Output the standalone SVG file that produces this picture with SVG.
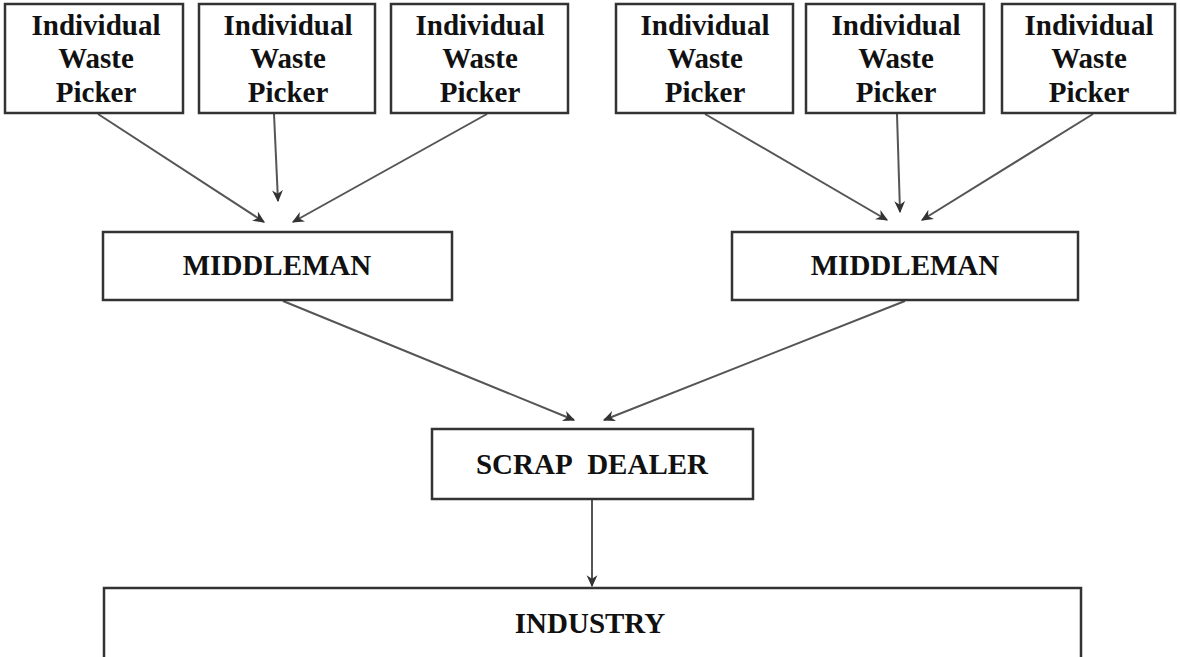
<svg xmlns="http://www.w3.org/2000/svg" width="1180" height="657" viewBox="0 0 1180 657">
<defs>
<style>
.box{fill:#fff;stroke:#333;stroke-width:2.5}
.t{font-family:"Liberation Serif","Times New Roman",serif;font-weight:bold;font-size:29px;fill:#111;text-anchor:middle}
.c{stroke:#555;stroke-width:2;fill:none;marker-end:url(#ah)}
</style>
<marker id="ah" viewBox="0 0 10 10" refX="9" refY="5" markerWidth="6" markerHeight="6" orient="auto" markerUnits="strokeWidth">
<path d="M0,0.5 L10,5 L0,9.5 L3,5 z" fill="#333"/>
</marker>
</defs>
<rect width="1180" height="657" fill="#fff"/>
<g id="connectors">
<line class="c" x1="98" y1="114" x2="264" y2="222"/>
<line class="c" x1="274" y1="114" x2="278" y2="201"/>
<line class="c" x1="487" y1="114" x2="293" y2="222"/>
<line class="c" x1="705" y1="114" x2="887" y2="220"/>
<line class="c" x1="897" y1="114" x2="900" y2="212"/>
<line class="c" x1="1093" y1="114" x2="922" y2="220"/>
<line class="c" x1="283" y1="301" x2="574" y2="420"/>
<line class="c" x1="905" y1="301" x2="604" y2="420"/>
<line class="c" x1="592" y1="500" x2="592" y2="586"/>
</g>
<g id="picker1"><rect class="box" x="5" y="4" width="178" height="109"/><text class="t" x="96" y="35">Individual</text><text class="t" x="96" y="68">Waste</text><text class="t" x="96" y="102">Picker</text></g>
<g id="picker2"><rect class="box" x="199" y="4" width="176" height="109"/><text class="t" x="288" y="35">Individual</text><text class="t" x="288" y="68">Waste</text><text class="t" x="288" y="102">Picker</text></g>
<g id="picker3"><rect class="box" x="391" y="4" width="177" height="109"/><text class="t" x="480" y="35">Individual</text><text class="t" x="480" y="68">Waste</text><text class="t" x="480" y="102">Picker</text></g>
<g id="picker4"><rect class="box" x="616" y="4" width="177" height="109"/><text class="t" x="705" y="35">Individual</text><text class="t" x="705" y="68">Waste</text><text class="t" x="705" y="102">Picker</text></g>
<g id="picker5"><rect class="box" x="806" y="4" width="178" height="109"/><text class="t" x="896" y="35">Individual</text><text class="t" x="896" y="68">Waste</text><text class="t" x="896" y="102">Picker</text></g>
<g id="picker6"><rect class="box" x="1002" y="4" width="173" height="109"/><text class="t" x="1089" y="35">Individual</text><text class="t" x="1089" y="68">Waste</text><text class="t" x="1089" y="102">Picker</text></g>
<g id="middleman1"><rect class="box" x="103" y="232" width="349" height="68"/><text class="t" x="277" y="275">MIDDLEMAN</text></g>
<g id="middleman2"><rect class="box" x="732" y="232" width="346" height="68"/><text class="t" x="905" y="275">MIDDLEMAN</text></g>
<g id="scrap"><rect class="box" x="432" y="429" width="321" height="70"/><text class="t" x="592" y="474">SCRAP&#160; DEALER</text></g>
<g id="industry"><rect class="box" x="104" y="588" width="977" height="80"/><text class="t" x="590" y="633">INDUSTRY</text></g>
</svg>
